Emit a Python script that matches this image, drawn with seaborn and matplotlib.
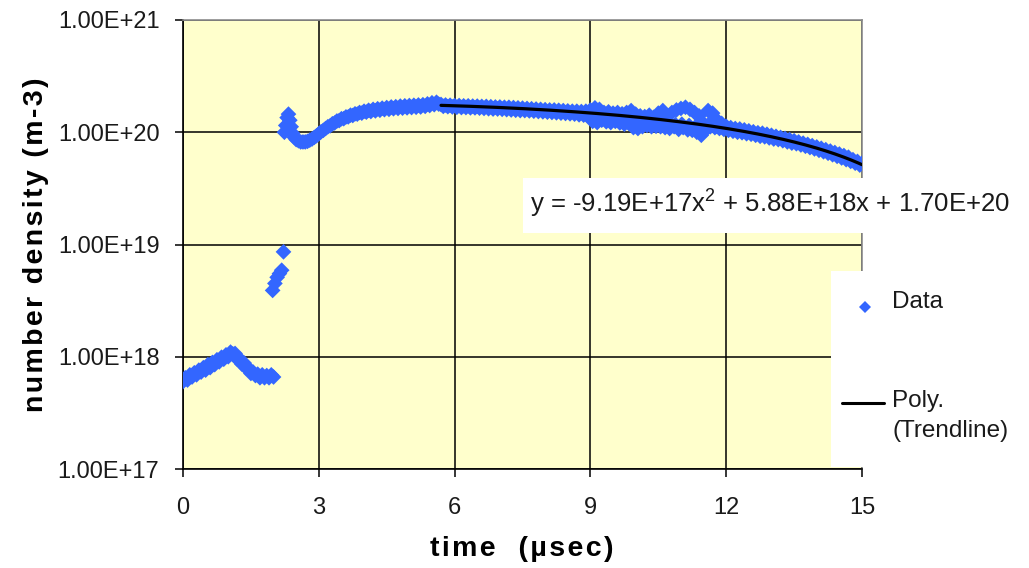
import numpy as np
import pandas as pd
import matplotlib
matplotlib.use("Agg")
import matplotlib.pyplot as plt
import seaborn as sns
from matplotlib.patches import Rectangle
from matplotlib.lines import Line2D
from matplotlib.ticker import NullLocator

# ---------------- data ----------------
# early segment: time (usec), density in 1e17 m^-3
T_EARLY = [0.00, 0.05, 0.10, 0.15, 0.20, 0.25, 0.30, 0.35, 0.40, 0.45, 0.50, 0.55,
           0.60, 0.65, 0.70, 0.75, 0.80, 0.85, 0.90, 0.95, 1.00, 1.05, 1.10, 1.15,
           1.20, 1.25, 1.30, 1.35, 1.40, 1.45, 1.50, 1.55, 1.60, 1.65, 1.70, 1.75,
           1.80, 1.85, 1.90, 1.95, 2.00]
N_EARLY_E17 = [6.0, 6.5, 6.2, 6.9, 6.6, 7.2, 6.9, 7.6, 7.3, 8.0, 7.6, 8.5,
               8.0, 8.9, 8.5, 9.4, 9.0, 9.9, 9.5, 10.4, 10.0, 11.0, 10.6, 10.7,
               9.5, 9.6, 8.6, 8.8, 7.9, 7.9, 7.1, 7.3, 6.8, 7.0, 6.5, 6.9,
               6.5, 6.8, 6.5, 6.9, 6.6]

# sparse transition points: density in 1e18 m^-3
T_JUMP = [1.98, 2.03, 2.08, 2.13, 2.18, 2.22]
N_JUMP_E18 = [3.9, 4.5, 5.1, 5.5, 5.9, 8.6]

# rise segment: density in 1e18 m^-3
T_RISE = [2.24, 2.27, 2.30, 2.33, 2.36, 2.39, 2.42, 2.46, 2.50, 2.55, 2.60, 2.65,
          2.70, 2.75, 2.80, 2.85, 2.90, 2.95, 3.00, 3.05, 3.10, 3.15, 3.20, 3.25,
          3.30, 3.35, 3.40, 3.45, 3.50, 3.55, 3.60, 3.65, 3.70, 3.75, 3.80, 3.85,
          3.90, 3.95, 4.00, 4.05, 4.10, 4.15, 4.20, 4.25, 4.30, 4.35, 4.40, 4.45,
          4.50, 4.55, 4.60, 4.65, 4.70, 4.75, 4.80, 4.85, 4.90, 4.95, 5.00, 5.05,
          5.10, 5.15, 5.20, 5.25, 5.30, 5.35, 5.40, 5.45, 5.50, 5.55, 5.60, 5.65]
N_RISE_E18 = [100, 115, 135, 145, 128, 112, 98, 90, 86, 84, 82, 82,
              82, 83, 85, 87, 90, 93, 97, 101, 104, 108, 112, 114,
              119, 121, 126, 127, 132, 132, 137, 137, 142, 141, 146, 145,
              150, 148, 154, 151, 157, 153, 160, 155, 162, 157, 164, 159,
              166, 160, 168, 162, 169, 163, 171, 164, 172, 165, 173, 166,
              174, 167, 175, 168, 176, 170, 179, 173, 183, 176, 185, 178]

# late segment (fitted range): density in 1e18 m^-3
T_LATE = [5.70, 5.75, 5.80, 5.85, 5.90, 5.95, 6.00, 6.05, 6.10, 6.15, 6.20, 6.25,
          6.30, 6.35, 6.40, 6.45, 6.50, 6.55, 6.60, 6.65, 6.70, 6.75, 6.80, 6.85,
          6.90, 6.95, 7.00, 7.05, 7.10, 7.15, 7.20, 7.25, 7.30, 7.35, 7.40, 7.45,
          7.50, 7.55, 7.60, 7.65, 7.70, 7.75, 7.80, 7.85, 7.90, 7.95, 8.00, 8.05,
          8.10, 8.15, 8.20, 8.25, 8.30, 8.35, 8.40, 8.45, 8.50, 8.55, 8.60, 8.65,
          8.70, 8.75, 8.80, 8.85, 8.90, 8.95, 9.00, 9.05, 9.10, 9.15, 9.20, 9.25,
          9.30, 9.35, 9.40, 9.45, 9.50, 9.55, 9.60, 9.65, 9.70, 9.75, 9.80, 9.85,
          9.90, 9.95, 10.00, 10.05, 10.10, 10.15, 10.20, 10.25, 10.30, 10.35, 10.40, 10.45,
          10.50, 10.55, 10.60, 10.65, 10.70, 10.75, 10.80, 10.85, 10.90, 10.95, 11.00, 11.05,
          11.10, 11.15, 11.20, 11.25, 11.30, 11.35, 11.40, 11.45, 11.50, 11.55, 11.60, 11.65,
          11.70, 11.75, 11.80, 11.85, 11.90, 11.95, 12.00, 12.05, 12.10, 12.15, 12.20, 12.25,
          12.30, 12.35, 12.40, 12.45, 12.50, 12.55, 12.60, 12.65, 12.70, 12.75, 12.80, 12.85,
          12.90, 12.95, 13.00, 13.05, 13.10, 13.15, 13.20, 13.25, 13.30, 13.35, 13.40, 13.45,
          13.50, 13.55, 13.60, 13.65, 13.70, 13.75, 13.80, 13.85, 13.90, 13.95, 14.00, 14.05,
          14.10, 14.15, 14.20, 14.25, 14.30, 14.35, 14.40, 14.45, 14.50, 14.55, 14.60, 14.65,
          14.70, 14.75, 14.80, 14.85, 14.90, 14.95, 15.00]
N_LATE_E18 = [177, 170, 175, 169, 174, 168, 173, 167, 173, 166, 172, 166,
              172, 165, 171, 165, 171, 164, 170, 163, 170, 162, 169, 161,
              168, 161, 168, 160, 167, 159, 167, 158, 166, 157, 165, 156,
              164, 156, 163, 155, 162, 154, 161, 153, 160, 152, 159, 151,
              158, 150, 158, 149, 157, 148, 156, 147, 155, 146, 154, 145,
              154, 143, 153, 142, 154, 140, 158, 125, 165, 122, 160, 128,
              150, 124, 152, 122, 148, 125, 150, 121, 146, 118, 150, 120,
              156, 110, 145, 108, 140, 112, 138, 115, 142, 112, 136, 113,
              148, 112, 156, 110, 140, 108, 150, 112, 158, 106, 163, 110,
              167, 105, 160, 104, 150, 100, 140, 94, 120, 105, 156, 112,
              148, 110, 128, 108, 120, 106, 113, 104, 110, 102, 108, 100,
              107, 99, 105, 97, 103, 96, 101, 94, 99, 92, 98, 91,
              96, 89, 94, 87, 92, 86, 90, 84, 88, 82, 86, 80,
              84, 79, 82, 77, 80, 75, 78, 73, 76, 71, 74, 69,
              72, 67, 70, 65, 68, 63, 66, 61, 64, 59, 62, 57,
              60, 55, 57, 53, 55, 51, 53]

# additional scattered readings in the noisy 9-12 usec window (1e18 m^-3)
T_NOISE = [9.02, 9.12, 9.22, 9.38, 9.52, 9.68, 9.82, 9.98, 10.12, 10.28, 10.42,
           10.58, 10.72, 10.88, 11.02, 11.18, 11.32, 11.48, 11.62, 11.78, 11.92]
N_NOISE_E18 = [140, 145, 138, 140, 136, 133, 132, 130, 128, 124, 125,
               122, 121, 117, 118, 115, 112, 110, 118, 113, 110]

# polynomial trendline coefficients as printed on the chart (x^2, x, 1)
TREND_COEF = [-9.19e17, 5.88e18, 1.70e20]
TREND_START = 5.70

X_TICKS = [0, 3, 6, 9, 12, 15]
X_TICK_LABELS = ["0", "3", "6", "9", "12", "15"]
Y_TICKS = [1e17, 1e18, 1e19, 1e20, 1e21]
Y_TICK_LABELS = ["1.00E+17", "1.00E+18", "1.00E+19", "1.00E+20", "1.00E+21"]

EQUATION = r"y = -9.19E+17x$^{2}$ + 5.88E+18x + 1.70E+20"
LEGEND_DATA = "Data"
LEGEND_TREND = "Poly.\n(Trendline)"
XLABEL = "time  (\u00b5sec)"
YLABEL = "number density (m-3)"


def spaced(text):
    # mimic the wide letter spacing of the original rendering
    return "\u200a".join(text)


# ---------------- build table ----------------
t_all = T_EARLY + T_JUMP + T_RISE + T_LATE + T_NOISE
n_all = ([v * 1e17 for v in N_EARLY_E17] + [v * 1e18 for v in N_JUMP_E18] +
         [v * 1e18 for v in N_RISE_E18] + [v * 1e18 for v in N_LATE_E18] +
         [v * 1e18 for v in N_NOISE_E18])
df = pd.DataFrame({"t": t_all, "n": n_all})

t_trend = np.array([t for t in T_LATE if t >= TREND_START])
trend = pd.DataFrame({"t": t_trend, "n": np.polyval(TREND_COEF, t_trend)})

# ---------------- style ----------------
sns.set_theme(style="white")
plt.rcParams["font.family"] = ["Liberation Sans", "DejaVu Sans"]
plt.rcParams["mathtext.fontset"] = "custom"
plt.rcParams["mathtext.rm"] = "Liberation Sans"
plt.rcParams["mathtext.it"] = "Liberation Sans"
plt.rcParams["mathtext.bf"] = "Liberation Sans:bold"

W, H = 1029, 568
fig = plt.figure(figsize=(W / 100, H / 100), dpi=100)
fig.patch.set_facecolor("white")
L, R, T, B = 183, 862, 20, 469
ax = fig.add_axes([L / W, 1 - B / H, (R - L) / W, (B - T) / H])
ax.set_facecolor("#FFFFCC")

BLUE = "#3366FF"
sns.scatterplot(data=df, x="t", y="n", marker="D", s=64, color=BLUE,
                edgecolor="none", linewidth=0, ax=ax, zorder=3, legend=False)
sns.lineplot(data=trend, x="t", y="n", color="black", linewidth=2.3,
             estimator=None, sort=False, ax=ax, zorder=4, legend=False)

ax.set_yscale("log")
ax.set_xlim(0, 15)
ax.set_ylim(1e17, 1e21)
ax.set_xticks(X_TICKS)
ax.set_xticklabels(X_TICK_LABELS)
ax.set_yticks(Y_TICKS)
ax.set_yticklabels(Y_TICK_LABELS)
ax.yaxis.set_minor_locator(NullLocator())
ax.set_xlabel("")
ax.set_ylabel("")

ax.grid(True, which="major", color="black", linewidth=1.1)
ax.set_axisbelow(True)
for side in ["left", "bottom"]:
    ax.spines[side].set_color("black")
    ax.spines[side].set_linewidth(1.2)
for side in ["top", "right"]:
    ax.spines[side].set_color("#8C8C8C")
    ax.spines[side].set_linewidth(1.2)

ax.tick_params(axis="both", which="major", direction="out", length=6, width=1.1,
               color="black", labelcolor="#1a1a1a", labelsize=17,
               bottom=True, left=True)
ax.tick_params(axis="y", pad=11)
ax.tick_params(axis="x", pad=14)

# axis titles
fig.text(522 / W, 1 - 549 / H, spaced(XLABEL), ha="center", va="center",
         fontsize=20.5, fontweight="bold", color="black")
fig.text(36 / W, 1 - 245 / H, spaced(YLABEL), ha="center", va="center", rotation=90,
         fontsize=20.5, fontweight="bold", color="black")

# equation label box
fig.add_artist(Rectangle((523 / W, 1 - 233 / H), (W - 523) / W, 55 / H,
                         transform=fig.transFigure, facecolor="white",
                         edgecolor="none", zorder=10))
fig.text(530 / W, 1 - 204 / H, EQUATION, ha="left", va="center",
         fontsize=18.5, color="#1a1a1a", zorder=11)

# legend box
fig.add_artist(Rectangle((831 / W, 1 - 467 / H), (W - 831) / W, (467 - 271) / H,
                         transform=fig.transFigure, facecolor="white",
                         edgecolor="none", zorder=10))
fig.add_artist(Line2D([865 / W], [1 - 307 / H], transform=fig.transFigure,
                      marker="D", markersize=6.5, color=BLUE, linestyle="none",
                      markeredgewidth=0, zorder=11))
fig.text(892 / W, 1 - 302 / H, LEGEND_DATA, ha="left", va="center",
         fontsize=17.5, color="#1a1a1a", zorder=11)
fig.add_artist(Line2D([842 / W, 884 / W], [1 - 403 / H, 1 - 403 / H],
                      transform=fig.transFigure, color="black", linewidth=2.2,
                      zorder=11))
fig.text(892 / W, 1 - 416 / H, LEGEND_TREND, ha="left", va="center",
         fontsize=17.5, color="#1a1a1a", linespacing=1.45, zorder=11)

fig.savefig("out.png", dpi=100, facecolor="white")
